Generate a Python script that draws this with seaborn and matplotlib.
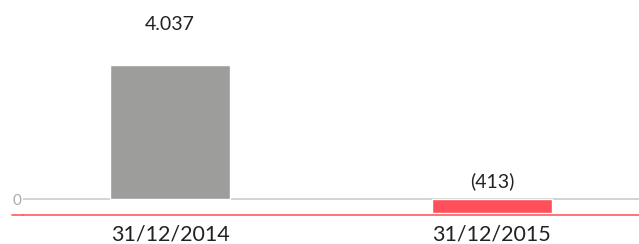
import matplotlib
matplotlib.use("Agg")
import matplotlib.pyplot as plt
import seaborn as sns
import pandas as pd

dates = ["31/12/2014", "31/12/2015"]
values = [4037, -413]
bar_colors = ["#9d9d9b", "#ff4f5a"]

df = pd.DataFrame({"date": dates, "value": values})

sns.set_style("white")
plt.rcParams["font.family"] = ["Lato", "DejaVu Sans"]

fig = plt.figure(figsize=(6.39, 2.44), dpi=100)
ax = fig.add_axes([23 / 639, (244 - 215) / 244, 616 / 639, 215 / 244])

sns.barplot(data=df, x="date", y="value", hue="date", palette=bar_colors,
            width=0.373, legend=False, ax=ax, saturation=1)

ax.set_xlim(-0.457, 1.457)
ax.set_ylim(-482, 5995)

def fmt(v):
    s = f"{abs(v):,}".replace(",", ".")
    return f"({s})" if v < 0 else s

for i, v in enumerate(values):
    if v >= 0:
        ax.annotate(fmt(v), (i, v), xytext=(0, 40), textcoords="offset pixels",
                    ha="center", va="center", fontsize=14, color="#222222")
    else:
        ax.annotate(fmt(v), (i, 0), xytext=(0, 18), textcoords="offset pixels",
                    ha="center", va="center", fontsize=14, color="#222222")

ax.axhline(0, color="#cccccc", lw=1.2, zorder=0)
for side in ["top", "right", "left"]:
    ax.spines[side].set_visible(False)
ax.spines["bottom"].set_color("#ff5a64")
ax.spines["bottom"].set_linewidth(1.2)

ax.set_yticks([0])
ax.set_yticklabels(["0"], color="#aaaaaa", fontsize=11)
ax.tick_params(axis="y", length=0, pad=1)
ax.tick_params(axis="x", length=0, labelsize=15.5, colors="#222222", pad=7)
ax.set_xlabel("")
ax.set_ylabel("")

# extend red line to the left like the reference
fig.add_artist(plt.Line2D([12 / 639, 23 / 639], [(244 - 215) / 244] * 2,
                          color="#ff5a64", lw=1.2))

fig.savefig("out.png", dpi=100)
